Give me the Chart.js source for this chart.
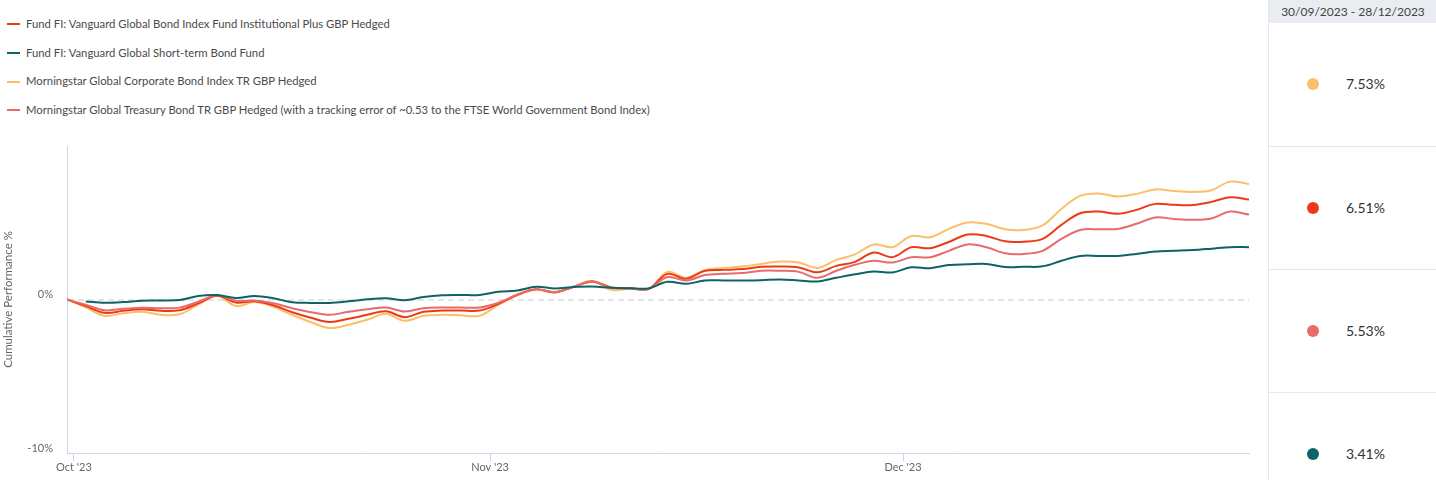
<!DOCTYPE html>
<html>
<head>
<meta charset="utf-8">
<script src="https://cdn.jsdelivr.net/npm/chart.js@4.4.0/dist/chart.umd.min.js"></script>
<style>
  body { margin: 0; background: #fff; font-family: Lato, "Open Sans", sans-serif; }
  #legend { position: absolute; left: 0; top: 0; width: 900px; height: 130px; }
  .leg { position: absolute; left: 7px; height: 16px; line-height: 16px; font-size: 11.3px; color: #4a4a4a; white-space: nowrap; }
  .leg i { display: inline-block; width: 13px; height: 2px; vertical-align: middle; margin-right: 6px; position: relative; top: -1px; }
  #chartBox { position: absolute; left: 0; top: 0; width: 1262px; height: 480px; }
  #panel { position: absolute; left: 1268px; top: 0; width: 168px; height: 480px; border-left: 1px solid #e4e7ee; }
  #panel .head { height: 23px; line-height: 23px; background: #e9ecf1; text-align: center; font-size: 12px; color: #444; }
  #panel .row { position: absolute; left: 0; width: 168px; height: 123px; }
  #panel .row.sep { border-top: 1px solid #e4e7f0; }
  #panel .dot { position: absolute; left: 38px; width: 12px; height: 12px; border-radius: 50%; top: 55px; }
  #panel .val { position: absolute; left: 77px; top: 52px; font-size: 14px; color: #333; }
</style>
</head>
<body>
<div id="legend"></div>
<div id="chartBox"><canvas id="perf"></canvas></div>
<div id="panel"><div class="head">30/09/2023 - 28/12/2023</div></div>
<script>
// trading-day index 0..63, month ticks where the month starts
const tickValues = [0.37, 22.55, 44.56];
const tickLabels = ["Oct '23", "Nov '23", "Dec '23"];

const names = [
  'Fund FI: Vanguard Global Bond Index Fund Institutional Plus GBP Hedged',
  'Fund FI: Vanguard Global Short-term Bond Fund',
  'Morningstar Global Corporate Bond Index TR GBP Hedged',
  'Morningstar Global Treasury Bond TR GBP Hedged (with a tracking error of ~0.53 to the FTSE World Government Bond Index)'
];
const colors = ['#ee3a14', '#0e6366', '#fcbf68', '#e86b6c'];

const globalBond = [0, -0.43, -0.87, -0.74, -0.64, -0.74, -0.70, -0.25, 0.24, -0.20,
  -0.12, -0.38, -0.83, -1.19, -1.46, -1.26, -1.00, -0.77, -1.15, -0.80,
  -0.72, -0.72, -0.72, -0.28, 0.31, 0.66, 0.47, 0.83, 1.17, 0.79,
  0.73, 0.70, 1.67, 1.35, 1.87, 1.93, 1.98, 2.13, 2.15, 2.09,
  1.77, 2.19, 2.45, 3.06, 2.76, 3.40, 3.34, 3.75, 4.24, 4.14,
  3.79, 3.77, 3.95, 4.86, 5.62, 5.73, 5.58, 5.84, 6.23, 6.17,
  6.16, 6.36, 6.66, 6.51];
const shortTerm = [null, -0.13, -0.21, -0.17, -0.08, -0.07, -0.04, 0.23, 0.29, 0.10,
  0.23, 0.08, -0.18, -0.22, -0.22, -0.12, 0.01, 0.08, -0.05, 0.16,
  0.27, 0.29, 0.30, 0.50, 0.59, 0.83, 0.72, 0.81, 0.84, 0.76,
  0.73, 0.72, 1.15, 1.02, 1.24, 1.24, 1.24, 1.26, 1.31, 1.24,
  1.17, 1.41, 1.64, 1.82, 1.76, 2.10, 2.04, 2.24, 2.29, 2.32,
  2.11, 2.13, 2.16, 2.52, 2.84, 2.84, 2.84, 2.97, 3.12, 3.17,
  3.22, 3.31, 3.41, 3.41];
const corporate = [0, -0.51, -1.06, -0.90, -0.80, -1.00, -0.96, -0.34, 0.24, -0.43,
  -0.17, -0.47, -1.00, -1.48, -1.86, -1.65, -1.32, -0.93, -1.39, -1.06,
  -1.00, -1.03, -1.06, -0.34, 0.27, 0.65, 0.46, 0.83, 1.22, 0.63,
  0.70, 0.68, 1.80, 1.42, 1.91, 2.06, 2.16, 2.32, 2.47, 2.41,
  2.06, 2.58, 2.94, 3.59, 3.41, 4.14, 4.05, 4.60, 5.02, 4.93,
  4.57, 4.53, 4.83, 5.90, 6.75, 6.91, 6.71, 6.88, 7.17, 7.07,
  7.01, 7.12, 7.68, 7.53];
const treasury = [0, -0.34, -0.70, -0.61, -0.53, -0.57, -0.53, -0.15, 0.27, -0.08,
  -0.07, -0.25, -0.57, -0.83, -1.00, -0.80, -0.64, -0.52, -0.78, -0.57,
  -0.52, -0.52, -0.52, -0.21, 0.31, 0.66, 0.47, 0.83, 1.15, 0.76,
  0.73, 0.70, 1.46, 1.24, 1.59, 1.67, 1.72, 1.87, 1.87, 1.80,
  1.41, 1.87, 2.26, 2.52, 2.41, 2.75, 2.75, 3.17, 3.59, 3.41,
  3.01, 2.97, 3.17, 3.95, 4.53, 4.58, 4.60, 4.93, 5.34, 5.25,
  5.19, 5.28, 5.73, 5.53];

// right-hand table, sorted by return
const panelOrder = [2, 0, 3, 1];
const periodReturns = ['7.53%', '6.51%', '5.53%', '3.41%'];

const legend = document.getElementById('legend');
names.forEach((n, i) => {
  const d = document.createElement('div');
  d.className = 'leg';
  d.style.top = (16 + i * 28.7) + 'px';
  d.innerHTML = '<i style="background:' + colors[i] + '"></i>' + n;
  legend.appendChild(d);
});

const panel = document.getElementById('panel');
panelOrder.forEach((s, k) => {
  const r = document.createElement('div');
  r.className = 'row' + (k > 0 ? ' sep' : '');
  r.style.top = (23 + k * 123) + 'px';
  r.innerHTML = '<span class="dot" style="background:' + colors[s] + '"></span><span class="val">' + periodReturns[k] + '</span>';
  panel.appendChild(r);
});

const toPoints = arr => arr.map((v, i) => ({ x: i, y: v }));
const series = [shortTerm, treasury, globalBond, corporate];
const seriesColor = [colors[1], colors[3], colors[0], colors[2]];

new Chart(document.getElementById('perf'), {
  type: 'line',
  data: {
    datasets: series.map((s, k) => ({
      data: toPoints(s),
      borderColor: seriesColor[k],
      borderWidth: 2,
      pointRadius: 0,
      tension: 0.35,
      fill: false
    }))
  },
  options: {
    responsive: true,
    maintainAspectRatio: false,
    animation: false,
    layout: { padding: { top: 146, right: 13, left: 0, bottom: 0 } },
    plugins: { legend: { display: false }, tooltip: { enabled: false } },
    scales: {
      x: {
        type: 'linear',
        min: 0,
        max: 63,
        afterBuildTicks: axis => { axis.ticks = tickValues.map(v => ({ value: v })); },
        afterFit: axis => { axis.height = 27; },
        ticks: {
          autoSkip: false,
          maxRotation: 0,
          padding: 0,
          color: '#666',
          font: { family: 'Lato', size: 11 },
          callback: (v, i) => tickLabels[i]
        },
        grid: { drawOnChartArea: false, color: '#ccd6eb', tickLength: 8 },
        border: { color: '#ccd6eb' }
      },
      y: {
        min: -10,
        max: 10,
        afterFit: axis => { axis.width = 67; },
        ticks: {
          stepSize: 10,
          padding: 14,
          labelOffset: -5,
          color: '#666',
          font: { family: 'Lato', size: 11 },
          callback: v => (v === 10 ? '' : v + '%')
        },
        grid: {
          drawTicks: false,
          lineWidth: 2,
          color: ctx => (ctx.tick && ctx.tick.value === 0 ? '#e4e4ea' : 'rgba(0,0,0,0)')
        },
        border: { color: '#ccd6eb', dash: [6, 4] },
        title: {
          display: true,
          text: 'Cumulative Performance %',
          color: '#666',
          font: { family: 'Lato', size: 11.5 },
          padding: { top: 1, bottom: 0 }
        }
      }
    }
  }
});
</script>
</body>
</html>
